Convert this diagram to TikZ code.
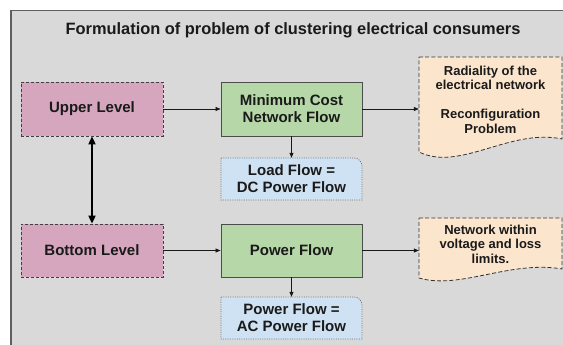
\documentclass[tikz,border=0pt]{standalone}
\usepackage{fontspec}
\setmainfont{Liberation Sans}
\usetikzlibrary{arrows.meta}
\definecolor{bgg}{HTML}{D9D9D9}
\definecolor{pinkf}{HTML}{D5A6BD}
\definecolor{greenf}{HTML}{B6D7A8}
\definecolor{bluef}{HTML}{CFE2F3}
\definecolor{orangef}{HTML}{FCE5CD}
\definecolor{frameln}{HTML}{5F5F5F}
\definecolor{txt}{HTML}{1A1A1A}
\tikzset{
  box/.style={rectangle, minimum width=141pt, inner sep=0pt, align=center,
     font=\fontsize{15}{17}\selectfont\bfseries, text=txt},
  levelbox/.style={box, minimum height=54pt, fill=pinkf, draw=black!75, dash pattern=on 3pt off 2pt, line width=0.8pt},
  procbox/.style={box, minimum height=54pt, fill=greenf, draw=black!70, line width=0.9pt},
  bluebox/.style={box, minimum height=42pt},
  blueline/.style={fill=bluef, draw=black!55, dash pattern=on 1pt off 1.3pt, line width=0.8pt},
  doctext/.style={align=center, inner sep=0pt, font=\fontsize{13}{14.5}\selectfont\bfseries, text=txt},
  docline/.style={fill=orangef, draw=black!80, dash pattern=on 4pt off 2.2pt, line width=0.8pt},
  thin/.style={-{Triangle[length=5pt,width=4pt]}, line width=0.7pt, draw=black!90},
  thick/.style={{Triangle[length=8pt,width=7pt]}-{Triangle[length=8pt,width=7pt]}, line width=1.8pt, draw=black},
}
\begin{document}
\begin{tikzpicture}[x=1pt,y=-1pt]
\useasboundingbox (0,0) rectangle (563,345);
\clip (0,0) rectangle (563,345);
\fill[white] (0,0) rectangle (563,345);
\draw[fill=bgg, draw=frameln, line width=1.5pt] (11,10.5) rectangle (570,352);

\node[font=\fontsize{16.4}{18}\selectfont\bfseries, text=txt] (title) at (293,30) {Formulation of problem of clustering electrical consumers};

% documents (drawn shapes)
\draw[docline] (419,57) -- (562,57) -- (562,139) .. controls (510,128) and (460,172) .. (419,152) -- cycle;
\draw[docline] (419,218) -- (562,218) -- (562,269) .. controls (510,260) and (460,290) .. (419,278) -- cycle;
\node[rectangle, minimum width=143pt, minimum height=95pt, inner sep=0pt] (rad) at (490.5,104.5) {};
\node[rectangle, minimum width=143pt, minimum height=60pt, inner sep=0pt] (net) at (490.5,248) {};
\node[doctext] (radtxt) at (490.5,99.5) {Radiality of the\\electrical network\\[14.5pt]Reconfiguration\\Problem};
\node[doctext] (nettxt) at (490.5,244) {Network within\\voltage and loss\\limits.};

% blue boxes (top-right corner rounded)
\draw[blueline] (221,158) -- (354,158) .. controls (358.4,158) and (362,161.6) .. (362,166) -- (362,200) -- (221,200) -- cycle;
\draw[blueline] (221,297) -- (354,297) .. controls (358.4,297) and (362,300.6) .. (362,305) -- (362,339) -- (221,339) -- cycle;
\node[bluebox] (load) at (291.5,179) {Load Flow =\\DC Power Flow};
\node[bluebox] (ac) at (291.5,318) {Power Flow =\\AC Power Flow};

\node[levelbox, minimum width=142pt] (upper) at (92,109) {Upper Level};
\node[levelbox, minimum width=142pt, minimum height=53pt] (bottom) at (92,250.5) {Bottom Level};
\node[procbox] (mcnf) at (291.5,109) {Minimum Cost\\Network Flow};
\node[procbox, minimum height=53pt] (pf) at (291.5,250.5) {Power Flow};

\draw[thin] (upper.east) -- (mcnf.west);
\draw[thin] (bottom.east) -- (pf.west);
\draw[thin] (mcnf.east) -- (mcnf.east -| rad.west);
\draw[thin] (pf.east) -- (pf.east -| net.west);
\draw[thin] (mcnf.south) -- (load.north);
\draw[thin] (pf.south) -- (ac.north);
\draw[thick] (upper.south) -- (bottom.north);
\end{tikzpicture}
\end{document}
